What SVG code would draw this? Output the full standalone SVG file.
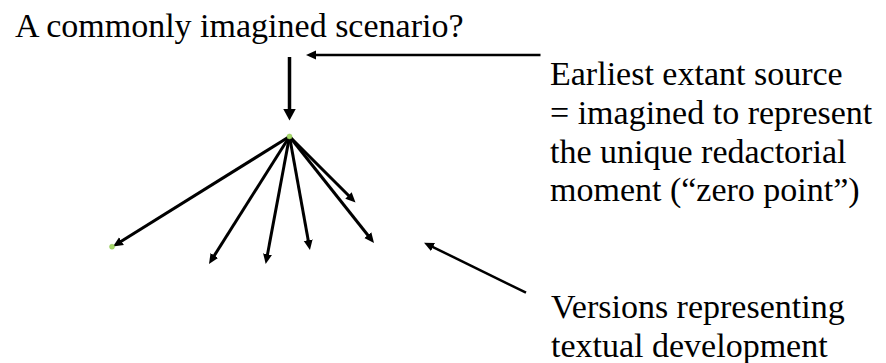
<svg xmlns="http://www.w3.org/2000/svg" width="886" height="363" viewBox="0 0 886 363" font-family="Liberation Serif">
<defs>
  <marker id="ah" markerUnits="userSpaceOnUse" viewBox="0 0 10 10" markerWidth="10" markerHeight="10" refX="4" refY="5" orient="auto">
    <path d="M0,0.5 L10,5 L0,9.5 Z" fill="#000"/>
  </marker>
  <marker id="ahBig" markerUnits="userSpaceOnUse" viewBox="0 0 13 13" markerWidth="13" markerHeight="13" refX="4.5" refY="6.5" orient="auto">
    <path d="M0,0 L12,6.5 L0,13 Z" fill="#000"/>
  </marker>
</defs>
<g id="title"><text style="font-family:'Liberation Serif',serif;font-size:34px" x="15" y="37">A commonly imagined scenario?</text></g>
<g id="label-source">
  <text style="font-family:'Liberation Serif',serif;font-size:34px" x="550" y="85">Earliest extant source</text>
  <text style="font-family:'Liberation Serif',serif;font-size:34px" x="550" y="124">= imagined to represent</text>
  <text style="font-family:'Liberation Serif',serif;font-size:34px" x="550" y="162.5">the unique redactorial</text>
  <text style="font-family:'Liberation Serif',serif;font-size:34px" x="550" y="201">moment (&#8220;zero point&#8221;)</text>
</g>
<g id="label-versions">
  <text style="font-family:'Liberation Serif',serif;font-size:34px" x="551" y="318">Versions representing</text>
  <text style="font-family:'Liberation Serif',serif;font-size:34px" x="551" y="357">textual development</text>
</g>
<g id="connectors" stroke="#000" fill="none">
  <line x1="289.5" y1="57" x2="289.5" y2="113" stroke-width="3.5" marker-end="url(#ahBig)"/>
  <line x1="540.5" y1="55" x2="312" y2="55" stroke-width="2.5" marker-end="url(#ah)"/>
  <line x1="526" y1="292.7" x2="429.4" y2="245.3" stroke-width="2.5" marker-end="url(#ah)"/>
  <line x1="289.5" y1="136.5" x2="118.1" y2="243.3" stroke-width="3" marker-end="url(#ah)"/>
  <line x1="289.5" y1="136.5" x2="212.2" y2="258.9" stroke-width="3" marker-end="url(#ah)"/>
  <line x1="289.5" y1="136.5" x2="266.8" y2="258.1" stroke-width="3" marker-end="url(#ah)"/>
  <line x1="289.5" y1="136.5" x2="308.9" y2="244.1" stroke-width="3" marker-end="url(#ah)"/>
  <line x1="289.5" y1="136.5" x2="370.3" y2="238.3" stroke-width="3" marker-end="url(#ah)"/>
  <line x1="289.5" y1="136.5" x2="351.3" y2="198.3" stroke-width="3" marker-end="url(#ah)"/>
</g>
<g id="node-source"><circle cx="289.5" cy="136.5" r="2.5" fill="#a6d96a" stroke="#8cc04f" stroke-width="0.5"/></g>
<g id="node-version"><circle cx="112" cy="246.7" r="2.5" fill="#a6d96a" stroke="#8cc04f" stroke-width="0.5"/></g>
</svg>
